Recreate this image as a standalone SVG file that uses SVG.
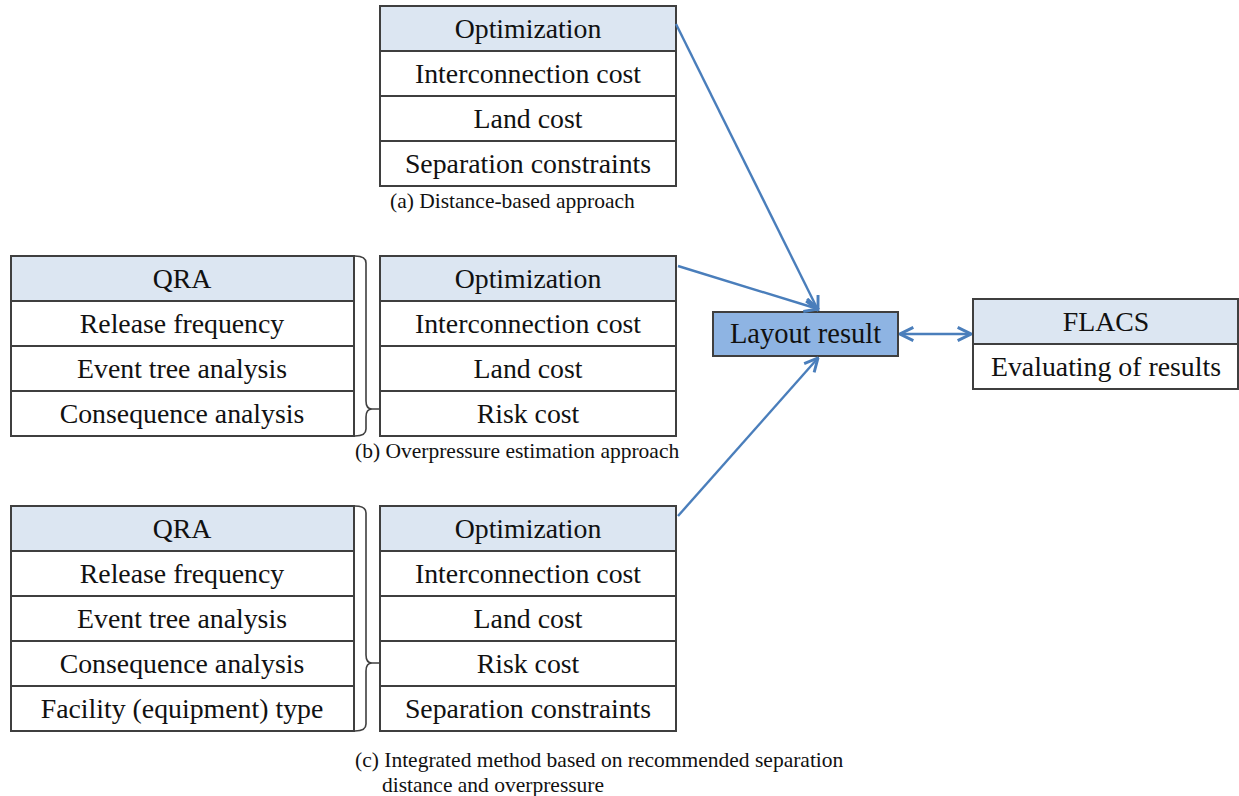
<svg xmlns="http://www.w3.org/2000/svg" width="1239" height="796" viewBox="0 0 1239 796">
<style>
  .hdr { fill: #dce6f2; stroke: #3f3f3f; stroke-width: 2; }
  .cell { fill: #ffffff; stroke: #3f3f3f; stroke-width: 2; }
  .t { font-family: "Liberation Serif", "Times New Roman", serif; font-size: 27.8px; fill: #111; text-anchor: middle; }
  .cap { font-family: "Liberation Serif", "Times New Roman", serif; font-size: 21.5px; fill: #111; }
  .conn { stroke: #4a7ebb; stroke-width: 2.4; fill: none; }
  .brace { stroke: #3f3f3f; stroke-width: 1.6; fill: none; }
  .res { fill: #8eb4e3; stroke: #3f3f3f; stroke-width: 2; }
</style>
<defs>
  <marker id="ah" viewBox="0 0 12 12" refX="11" refY="6" markerWidth="16" markerHeight="16" markerUnits="userSpaceOnUse" orient="auto-start-reverse">
    <path d="M1,1 L11,6 L1,11" fill="none" stroke="#4a7ebb" stroke-width="2.2"/>
  </marker>
</defs>

<g id="opt-a">
  <rect class="hdr" x="380" y="6" width="296" height="45"/>
  <rect class="cell" x="380" y="51" width="296" height="45"/>
  <rect class="cell" x="380" y="96" width="296" height="45"/>
  <rect class="cell" x="380" y="141" width="296" height="45"/>
  <text class="t" x="528" y="38">Optimization</text>
  <text class="t" x="528" y="83">Interconnection cost</text>
  <text class="t" x="528" y="128">Land cost</text>
  <text class="t" x="528" y="173">Separation constraints</text>
  <text class="cap" x="390" y="208">(a) Distance-based approach</text>
</g>

<g id="qra-b">
  <rect class="hdr" x="11" y="256" width="343" height="45"/>
  <rect class="cell" x="11" y="301" width="343" height="45"/>
  <rect class="cell" x="11" y="346" width="343" height="45"/>
  <rect class="cell" x="11" y="391" width="343" height="45"/>
  <text class="t" x="182" y="288">QRA</text>
  <text class="t" x="182" y="333">Release frequency</text>
  <text class="t" x="182" y="378">Event tree analysis</text>
  <text class="t" x="182" y="423">Consequence analysis</text>
</g>

<g id="opt-b">
  <rect class="hdr" x="380" y="256" width="296" height="45"/>
  <rect class="cell" x="380" y="301" width="296" height="45"/>
  <rect class="cell" x="380" y="346" width="296" height="45"/>
  <rect class="cell" x="380" y="391" width="296" height="45"/>
  <text class="t" x="528" y="288">Optimization</text>
  <text class="t" x="528" y="333">Interconnection cost</text>
  <text class="t" x="528" y="378">Land cost</text>
  <text class="t" x="528" y="423">Risk cost</text>
  <text class="cap" x="355" y="458">(b) Overpressure estimation approach</text>
</g>

<g id="brace-b">
  <path class="brace" d="M355,256 Q366,256 366,263 L366,401 Q366,409 372,409 L380,409 M372,409 Q366,409 366,417 L366,429 Q366,436 355,436"/>
</g>

<g id="qra-c">
  <rect class="hdr" x="11" y="506" width="343" height="45"/>
  <rect class="cell" x="11" y="551" width="343" height="45"/>
  <rect class="cell" x="11" y="596" width="343" height="45"/>
  <rect class="cell" x="11" y="641" width="343" height="45"/>
  <rect class="cell" x="11" y="686" width="343" height="45"/>
  <text class="t" x="182" y="538">QRA</text>
  <text class="t" x="182" y="583">Release frequency</text>
  <text class="t" x="182" y="628">Event tree analysis</text>
  <text class="t" x="182" y="673">Consequence analysis</text>
  <text class="t" x="182" y="718">Facility (equipment) type</text>
</g>

<g id="opt-c">
  <rect class="hdr" x="380" y="506" width="296" height="45"/>
  <rect class="cell" x="380" y="551" width="296" height="45"/>
  <rect class="cell" x="380" y="596" width="296" height="45"/>
  <rect class="cell" x="380" y="641" width="296" height="45"/>
  <rect class="cell" x="380" y="686" width="296" height="45"/>
  <text class="t" x="528" y="538">Optimization</text>
  <text class="t" x="528" y="583">Interconnection cost</text>
  <text class="t" x="528" y="628">Land cost</text>
  <text class="t" x="528" y="673">Risk cost</text>
  <text class="t" x="528" y="718">Separation constraints</text>
  <text class="cap" x="355" y="767">(c) Integrated method based on recommended separation</text>
  <text class="cap" x="382" y="792">distance and overpressure</text>
</g>

<g id="brace-c">
  <path class="brace" d="M355,506 Q366,506 366,513 L366,655 Q366,663 372,663 L380,663 M372,663 Q366,663 366,671 L366,724 Q366,731 355,731"/>
</g>

<g id="layout-result">
  <rect class="res" x="713" y="312" width="185" height="44"/>
  <text class="t" x="805.5" y="343" style="font-size:28.5px">Layout result</text>
</g>

<g id="flacs">
  <rect class="hdr" x="973" y="299" width="265" height="45"/>
  <rect class="cell" x="973" y="344" width="265" height="45"/>
  <text class="t" x="1106" y="331">FLACS</text>
  <text class="t" x="1106" y="376">Evaluating of results</text>
</g>

<g id="connectors">
  <line class="conn" x1="676" y1="24" x2="818" y2="310" marker-end="url(#ah)"/>
  <line class="conn" x1="678" y1="266" x2="818" y2="309" marker-end="url(#ah)"/>
  <line class="conn" x1="678" y1="516" x2="818" y2="358" marker-end="url(#ah)"/>
  <line class="conn" x1="900" y1="334" x2="971" y2="334" marker-start="url(#ah)" marker-end="url(#ah)"/>
</g>
</svg>
